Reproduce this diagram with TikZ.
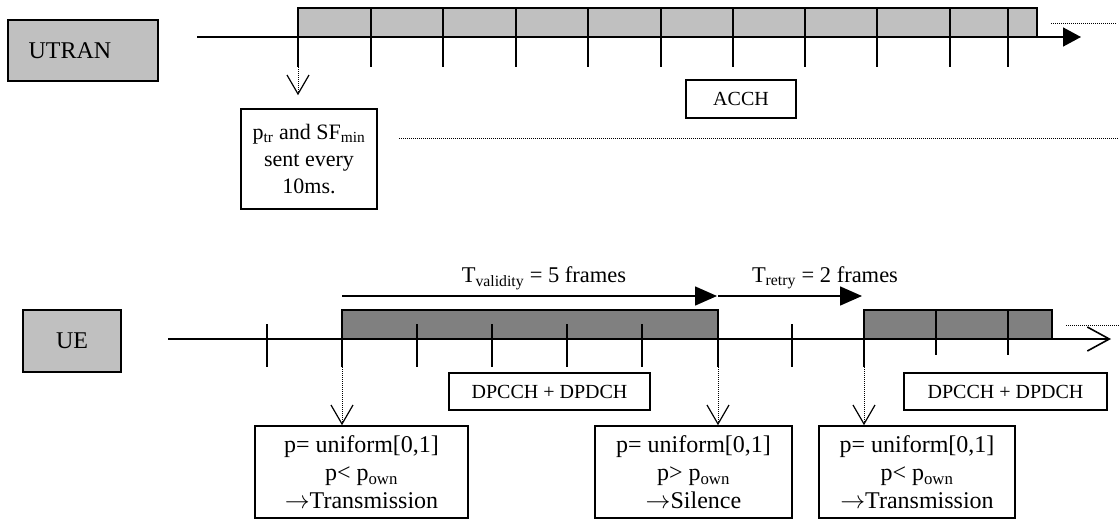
\documentclass[tikz,border=0pt]{standalone}
\usepackage{fontspec}
\setmainfont{Liberation Serif}
\usetikzlibrary{arrows.meta}
\definecolor{lgray}{HTML}{C0C0C0}
\definecolor{dgray}{HTML}{808080}
\newcommand{\rarr}{$\rightarrow$}
\begin{document}
\begin{tikzpicture}[x=1pt,y=-1pt,
  txtbig/.style={font=\fontsize{24}{28}\selectfont},
  txtlab/.style={font=\fontsize{22.5}{27}\selectfont},
  txtmid/.style={font=\fontsize{22}{27}\selectfont},
  txtsmall/.style={font=\fontsize{20}{24}\selectfont},
  boxline/.style={line width=1.6pt},
  graybox/.style={draw, boxline, fill=lgray, inner sep=0pt, txtbig},
  whitebox/.style={draw, boxline, fill=white, inner sep=0pt, align=center},
  thinbox/.style={draw, line width=1.2pt, fill=white, inner sep=0pt, txtsmall},
  axisline/.style={line width=1.6pt},
  tickline/.style={line width=1.6pt},
  dotline/.style={line width=0.9pt, dash pattern=on 1pt off 1pt},
  dotarrow/.style={dotline, -{Straight Barb[length=19pt,width=22pt,line width=1.2pt]}},
  timearrow/.style={line width=1.6pt, -{Triangle[length=22pt,width=19pt]}}
]
\useasboundingbox (0,0) rectangle (1120,520);

% ---------------- UTRAN ----------------
\node[graybox, minimum width=150pt, minimum height=61pt] (utran) at (83,50.5) {UTRAN\kern26pt};

\draw[boxline, fill=lgray] (298,8) rectangle (1037,37);
\coordinate (uS) at (197,37);
\coordinate (uE) at (1081,37);
\draw[axisline, -{Triangle[length=18pt,width=19pt]}] (uS) -- (uE);
\foreach \x in {298,371,443,516,588,661,733,805,877,950,1008}
  \draw[tickline] (\x,8) -- (\x,67);
\coordinate (ut0) at (298,67);
\draw[dotline] (1051,23) -- (1117,23);

\node[thinbox, minimum width=110pt, minimum height=38pt] (acch) at (741,99) {ACCH};

\node[whitebox, txtmid, minimum width=136pt, minimum height=100pt] (ptr) at (309,159)
  {p\textsubscript{tr} and SF\textsubscript{min}\\sent every\\10ms.};
\draw[dotarrow, shorten >=13pt] (ut0) -- (ut0 |- ptr.north);
\draw[dotline] (399,138) -- (1118,138);

% ---------------- UE ----------------
\node[graybox, minimum width=98pt, minimum height=62pt] (ue) at (72,341) {UE};

\draw[boxline, fill=dgray] (342,310) rectangle (718,339);
\draw[boxline, fill=dgray] (864,310) rectangle (1052,339);
\coordinate (eS) at (168,339);
\coordinate (eE) at (1111,339);
\draw[axisline, -{Straight Barb[length=22pt,width=24pt]}] (eS) -- (eE);
\foreach \x in {267,417,492,567,642,718,792}
  \draw[tickline] (\x,324) -- (\x,367);
\draw[tickline] (342,310) -- (342,367);
\draw[tickline] (864,310) -- (864,367);
\foreach \x in {936,1008}
  \draw[tickline] (\x,310) -- (\x,355);
\draw[dotline] (1066,325) -- (1120,325);

\coordinate (e1) at (342,367);
\coordinate (e2) at (718,367);
\coordinate (e3) at (864,367);

% time arrows
\coordinate (va) at (342,296);
\coordinate (vb) at (717,296);
\coordinate (ra) at (718,296);
\coordinate (rb) at (862,296);
\draw[timearrow] (va) -- (vb);
\draw[timearrow] (ra) -- (rb);
\node[txtlab, inner sep=0pt] (tval) at (544,278) {T\textsubscript{validity} = 5 frames};
\node[txtlab, inner sep=0pt] (tret) at (825,278) {T\textsubscript{retry} = 2 frames};

\node[thinbox, minimum width=201pt, minimum height=37pt] (dp1) at (549.5,391.5) {DPCCH + DPDCH};
\node[thinbox, minimum width=203pt, minimum height=37pt] (dp2) at (1005.5,391.5) {DPCCH + DPDCH};

\node[whitebox, txtbig, minimum width=213pt, minimum height=92pt] (r1) at (361.5,472)
  {p= uniform[0,1]\\p< p\textsubscript{own}\\\rarr Transmission};
\node[whitebox, txtbig, minimum width=197pt, minimum height=92pt] (r2) at (693.5,472)
  {p= uniform[0,1]\\p> p\textsubscript{own}\\\rarr Silence};
\node[whitebox, txtbig, minimum width=196pt, minimum height=92pt] (r3) at (917,472)
  {p= uniform[0,1]\\p< p\textsubscript{own}\\\rarr Transmission};

\draw[dotarrow] (e1) -- (e1 |- r1.north);
\draw[dotarrow] (e2) -- (e2 |- r2.north);
\draw[dotarrow] (e3) -- (e3 |- r3.north);
\end{tikzpicture}
\end{document}
